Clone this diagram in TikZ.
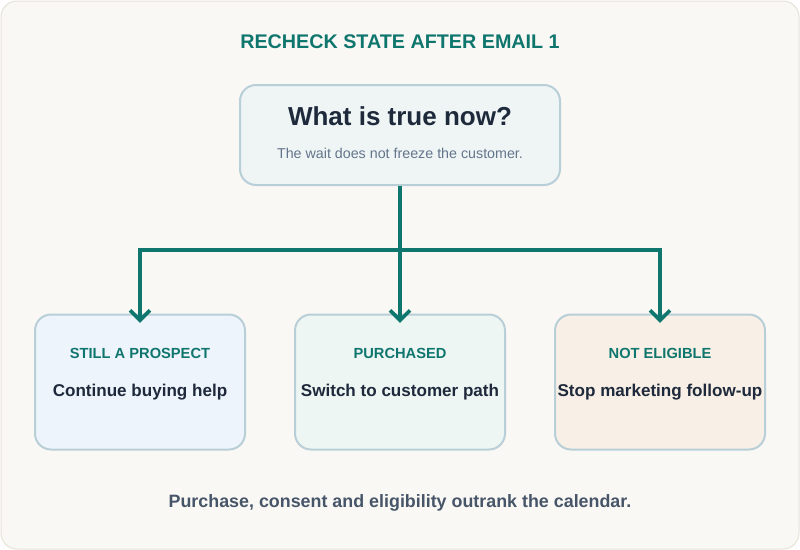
\documentclass[tikz,border=0pt]{standalone}
\usepackage{fontspec}
\setmainfont{Liberation Sans}
\usetikzlibrary{arrows.meta}
\definecolor{bg}{HTML}{FAF8F4}
\definecolor{bgline}{HTML}{E6E2DA}
\definecolor{teal}{HTML}{0F766E}
\definecolor{boxline}{HTML}{B9CFD8}
\definecolor{topfill}{HTML}{EEF5F4}
\definecolor{bluefill}{HTML}{EEF4FB}
\definecolor{greenfill}{HTML}{EEF6F4}
\definecolor{tanfill}{HTML}{F8F0E6}
\definecolor{dark}{HTML}{1E293B}
\definecolor{muted}{HTML}{64748B}
\definecolor{foot}{HTML}{475569}
\begin{document}
\begin{tikzpicture}[x=0.75pt,y=-0.75pt,
 box/.style={draw=boxline,line width=1.5pt,rounded corners=12pt,minimum width=157.5pt,minimum height=101.25pt,inner sep=0pt},
 conn/.style={draw=teal,line width=2.7pt},
 arr/.style={conn,-{Straight Barb[length=7.5pt,width=15pt,line width=2.7pt]}},
 lab/.style={font=\bfseries\fontsize{11}{13}\selectfont,text=teal},
 txt/.style={font=\bfseries\fontsize{12.8}{15}\selectfont,text=dark}]
\useasboundingbox (0,0) rectangle (800,550);
\fill[bg,draw=bgline,line width=0.75pt,rounded corners=12pt] (1,1) rectangle (799,549);
\node[font=\bfseries\fontsize{14.8}{17}\selectfont,text=teal] (title) at (400,42) {RECHECK STATE AFTER EMAIL 1};
\node[box,fill=topfill,minimum width=240pt,minimum height=75pt] (top) at (400,135) {};
\node[font=\bfseries\fontsize{19.5}{23}\selectfont,text=dark] (q) at (400,116) {What is true now?};
\node[font=\fontsize{10.7}{12}\selectfont,text=muted] (qs) at (400,153) {The wait does not freeze the customer.};
\node[box,fill=bluefill] (a) at (140,382) {};
\node[box,fill=greenfill] (b) at (400,382) {};
\node[box,fill=tanfill] (c) at (660,382) {};
\node[lab] (al) at (140,353) {STILL A PROSPECT};
\node[lab] (bl) at (400,353) {PURCHASED};
\node[lab] (cl) at (660,353) {NOT ELIGIBLE};
\node[txt] (at) at (140,392) {Continue buying help};
\node[txt] (bt) at (400,392) {Switch to customer path};
\node[txt] (ct) at (660,392) {Stop marketing follow-up};
\coordinate (j) at (400,250);
\coordinate (ja) at (140,250);
\coordinate (jc) at (660,250);
\draw[conn] (top.south) -- (j);
\draw[conn,line cap=rect] (ja) -- (jc);
\draw[arr] (ja) -- ([yshift=-7pt]a.north);
\draw[arr] (j) -- ([yshift=-7pt]b.north);
\draw[arr] (jc) -- ([yshift=-7pt]c.north);
\node[font=\bfseries\fontsize{13.4}{16}\selectfont,text=foot] (f) at (400,503) {Purchase, consent and eligibility outrank the calendar.};
\end{tikzpicture}
\end{document}
